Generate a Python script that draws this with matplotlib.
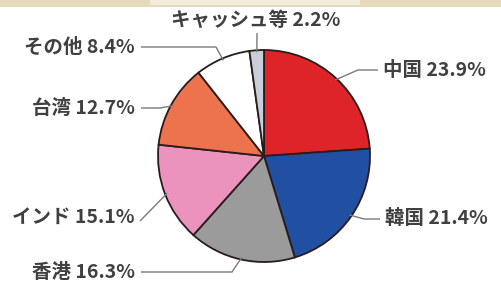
import numpy as np
import matplotlib
matplotlib.use("Agg")
import matplotlib.pyplot as plt
from matplotlib.patches import Rectangle

plt.rcParams['font.family'] = ['Noto Sans CJK JP', 'DejaVu Sans']

# ---- data ----
categories = ["中国", "韓国", "香港", "インド", "台湾", "その他", "キャッシュ等"]
shares = [23.9, 21.4, 16.3, 15.1, 12.7, 8.4, 2.2]
colors = ["#de2429", "#2150a2", "#9b9b9b", "#ec93bd", "#ec734e", "#ffffff", "#c9ceda"]

W, H = 501, 287
fig = plt.figure(figsize=(W / 100, H / 100), dpi=100)
fig.patch.set_facecolor("white")
ax = fig.add_axes([0, 0, 1, 1])

def Y(y_px):
    return H - y_px

cx, cy, R = 264, Y(156), 106
wedges, _ = ax.pie(shares, colors=colors, startangle=90, counterclock=False,
                   center=(cx, cy), radius=R,
                   wedgeprops=dict(edgecolor="#2a1c1c", linewidth=1.3))
ax.set_xlim(0, W)
ax.set_ylim(0, H)
ax.set_aspect('equal')
ax.axis('off')

# top decorative band
ax.add_patch(Rectangle((0, Y(7)), W, 7, facecolor="#e6dabd", edgecolor="none", zorder=0))
ax.add_patch(Rectangle((150, Y(5)), 210, 5, facecolor="#f3ecdc", edgecolor="none", zorder=1))

# label layout (text anchor in px, ha, leader start and elbow in px)
layout = {
    "中国":        dict(tx=383, ty=70,  ha="left",   start=(378, 70),  elbow=(358, 70)),
    "韓国":        dict(tx=385, ty=219, ha="left",   start=(380, 219), elbow=(364, 219)),
    "香港":        dict(tx=135, ty=272, ha="right",  start=(141, 272), elbow=(232, 272)),
    "インド":      dict(tx=135, ty=217, ha="right",  start=(140, 221), elbow=(140, 221)),
    "台湾":        dict(tx=135, ty=108, ha="right",  start=(141, 108), elbow=(160, 108)),
    "その他":      dict(tx=135, ty=47,  ha="right",  start=(141, 47),  elbow=(216, 47)),
    "キャッシュ等": dict(tx=256, ty=20,  ha="center", start=(257, 33),  elbow=(257, 35)),
}

for w, cat, val in zip(wedges, categories, shares):
    mid = np.deg2rad((w.theta1 + w.theta2) / 2)
    ex, ey = cx + R * 0.98 * np.cos(mid), cy + R * 0.98 * np.sin(mid)
    L = layout[cat]
    sx, sy = L["start"]
    bx, by = L["elbow"]
    ax.plot([sx, bx, ex], [Y(sy), Y(by), ey], color="#7a7a7a", lw=1.0,
            solid_capstyle="butt", zorder=3)
    ax.text(L["tx"], Y(L["ty"]), f"{cat} {val}%", ha=L["ha"], va="center",
            fontsize=14, color="#404040", fontweight="bold", zorder=4)

fig.savefig("out.png", dpi=100)
